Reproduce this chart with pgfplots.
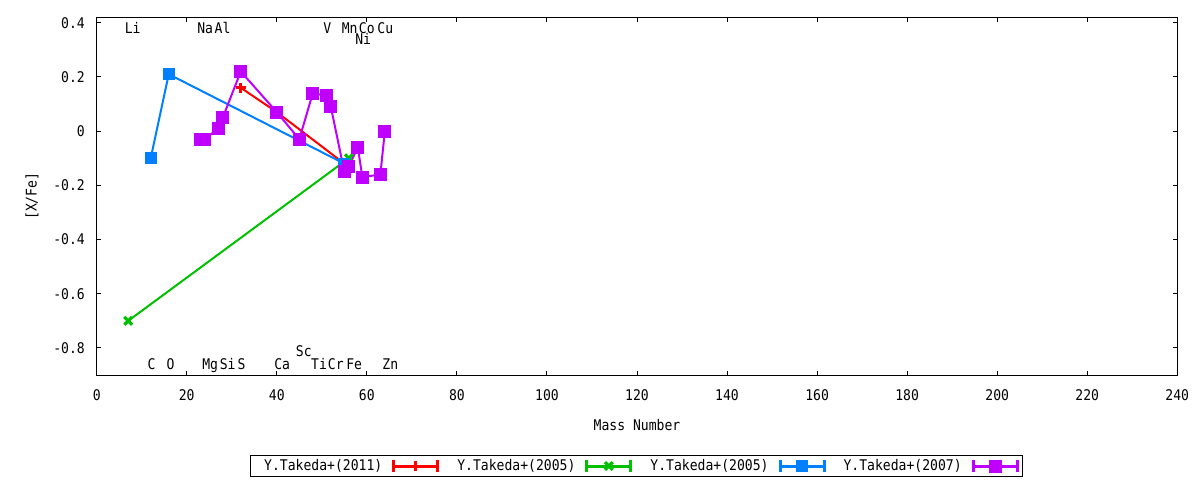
\documentclass[border=0pt]{standalone}
\usepackage{fontspec}
\setmainfont{DejaVu Sans Mono}[FakeStretch=0.89]
\usepackage{pgfplots}
\pgfplotsset{compat=1.18}

\definecolor{gpred}{HTML}{FF0000}
\definecolor{gpgreen}{HTML}{00C000}
\definecolor{gpblue}{HTML}{0080FF}
\definecolor{gppurple}{HTML}{C000FF}

\begin{document}
\fontsize{14.7bp}{17bp}\selectfont
\begin{tikzpicture}
\useasboundingbox (-96.7bp,-105bp) rectangle (1103.3bp,375bp);
\begin{axis}[
  at={(0,0)}, anchor=south west,
  scale only axis,
  width=1080.6bp, height=357.7bp,
  xmin=0, xmax=240,
  ymin=-0.9, ymax=0.42,
  xtick={0,20,...,240},
  ytick={-0.8,-0.6,-0.4,-0.2,0,0.2,0.4},
  yticklabels={-0.8,-0.6,-0.4,-0.2,0,0.2,0.4},
  xticklabels={0,20,40,60,80,100,120,140,160,180,200,220,240},
  tick align=inside,
  major tick length=4.5bp,
  tick style={black, line width=1bp},
  axis line style={line width=1bp},
  xticklabel style={anchor=center, inner sep=0pt, yshift=-19.7bp},
  yticklabel style={anchor=east, inner sep=0pt, xshift=-11.7bp},
  xlabel={Mass Number},
  ylabel={[X/Fe]},
  xlabel style={at={(axis description cs:0.5,-0.1398)}, anchor=center, inner sep=0pt},
  ylabel style={at={(axis description cs:-0.0599,0.5)}, anchor=center, inner sep=0pt},
  legend columns=4,
  legend plot pos=right,
  legend style={at={(axis description cs:0.4995,-0.2237)}, anchor=north,
    draw=black, line width=1bp, inner xsep=4bp, inner ysep=3bp,
    nodes={inner sep=0pt, text height=10.7bp, text depth=2.5bp},
    /tikz/every odd column/.append style={column sep=10bp},
    /tikz/every even column/.append style={column sep=18bp}},
  legend image code/.code={
    \draw[#1,line width=3bp,mark=none] (0bp,0bp)--(44bp,0bp)
      (0bp,-6bp)--(0bp,6bp) (44bp,-6bp)--(44bp,6bp);
    \draw[#1] plot coordinates {(22bp,0bp)};
  },
  clip=false,
]
% Y.Takeda+(2011)
\addplot[color=gpred, line width=2bp, mark=+, mark size=5bp,
  mark options={line width=2.8bp}]
  coordinates {(32,0.16)(40,0.07)(55,-0.12)};
% Y.Takeda+(2005)
\addplot[color=gpgreen, line width=2bp, mark=x, mark size=5.5bp,
  mark options={line width=3.2bp}]
  coordinates {(7,-0.70)(56,-0.10)};
% Y.Takeda+(2005)
\addplot[color=gpblue, line width=2bp, mark=square*, mark size=5bp]
  coordinates {(12,-0.10)(16,0.21)(55,-0.12)};
% Y.Takeda+(2007)
\addplot[color=gppurple, line width=2bp, mark=square*, mark size=5.5bp]
  coordinates {(23,-0.03)(24,-0.03)(27,0.01)(28,0.05)(32,0.22)(40,0.07)
    (45,-0.03)(48,0.14)(51,0.13)(52,0.09)(55,-0.15)(56,-0.13)(58,-0.06)
    (59,-0.17)(63,-0.16)(64,0.00)};
\legend{\hspace*{10bp}Y.Takeda+(2011),Y.Takeda+(2005),Y.Takeda+(2005),Y.Takeda+(2007)}

% element labels
\begin{scope}[every node/.style={anchor=base, inner sep=0pt}]
\node at (axis cs:8.0,0.361) {Li};
\node at (axis cs:24.1,0.361) {Na};
\node at (axis cs:27.95,0.361) {Al};
\node at (axis cs:51.2,0.361) {V};
\node at (axis cs:56.2,0.361) {Mn};
\node at (axis cs:60.0,0.361) {Co};
\node at (axis cs:64.1,0.361) {Cu};
\node at (axis cs:59.2,0.320) {Ni};
\node at (axis cs:12.2,-0.879) {C};
\node at (axis cs:16.4,-0.879) {O};
\node at (axis cs:25.2,-0.879) {Mg};
\node at (axis cs:29.1,-0.879) {Si};
\node at (axis cs:32.2,-0.879) {S};
\node at (axis cs:41.2,-0.879) {Ca};
\node at (axis cs:46.0,-0.830) {Sc};
\node at (axis cs:49.4,-0.879) {Ti};
\node at (axis cs:53.1,-0.879) {Cr};
\node at (axis cs:57.2,-0.879) {Fe};
\node at (axis cs:65.2,-0.879) {Zn};
\end{scope}
\end{axis}
\end{tikzpicture}
\end{document}
